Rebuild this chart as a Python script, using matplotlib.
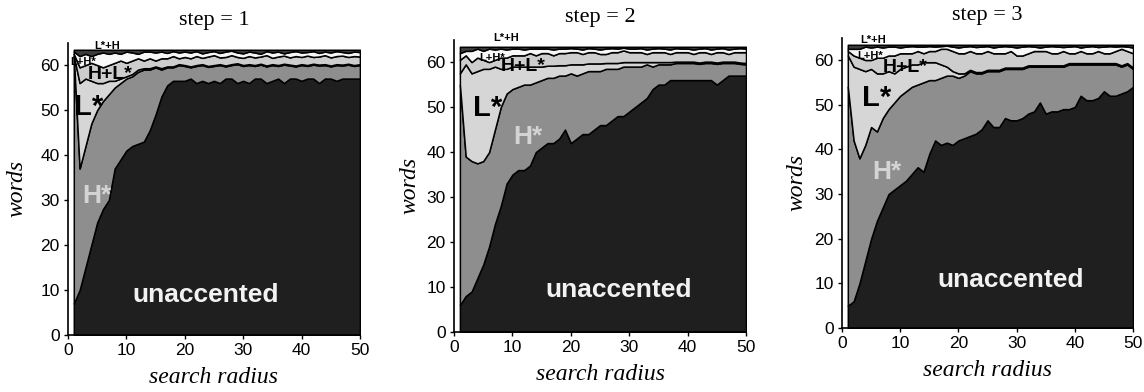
import matplotlib.pyplot as plt

# search radius 1..50
radius = list(range(1, 51))
total_words = 63.4

# cumulative layer tops (words)
# step = 1
s1_unacc = [7, 10, 15, 20, 25, 28, 30, 37, 39, 41,
            42, 42.5, 43, 45.5, 49, 53, 55.5, 56.5, 56.5, 56.5,
            57, 56, 56.5, 56, 56.5, 56, 57, 57, 56, 56.5,
            56, 57, 57, 56, 56.5, 57, 56, 57, 57, 56.5,
            57, 57, 56, 57, 57, 56.5, 57, 57, 57, 57]
s1_hstar = [62, 37, 42, 47, 50, 52, 53.5, 55, 56, 57,
            57.5, 58.5, 59, 59, 59.5, 59, 59.5, 59.5, 60, 59.8,
            59.5, 59.8, 60, 59.6, 59.8, 60, 59.7, 60, 60.2, 59.8,
            60, 59.8, 60.1, 59.7, 60, 59.8, 60.1, 59.9, 59.7, 60,
            59.8, 60.1, 59.9, 60, 59.7, 60, 59.9, 60.1, 59.8, 60]
s1_lstar = [62, 56, 57, 56.5, 56, 56, 56.5, 56.5, 57, 57.5,
            58, 59, 59.3, 59.3, 59.7, 59.3, 59.7, 59.7, 60.2, 60,
            59.7, 60, 60.2, 59.8, 60, 60.2, 59.9, 60.2, 60.4, 60,
            60.2, 60, 60.3, 59.9, 60.2, 60, 60.3, 60.1, 59.9, 60.2,
            60, 60.3, 60.1, 60.2, 59.9, 60.2, 60.1, 60.3, 60, 60.2]
s1_hl = [62.5, 59.5, 60, 60.5, 60, 59.5, 60, 60.5, 61, 60.5,
         61, 61.5, 61, 61.5, 61, 61.5, 61.5, 62, 61.5, 61.8,
         61.5, 62, 61.6, 61.9, 62.2, 61.7, 61.8, 62.2, 61.8, 61.6,
         62, 61.7, 61.9, 62.2, 61.6, 61.9, 62.1, 61.7, 62, 61.8,
         62.1, 61.8, 61.9, 62.2, 61.7, 62, 62.1, 61.8, 62, 61.9]
s1_lh = [63, 62, 62.5, 62, 62.5, 62.8, 62.5, 62.8, 62.5, 63,
         62.8, 62.5, 63, 63, 62.8, 63, 62.7, 63.1, 62.8, 63,
         62.8, 63.1, 62.6, 62.9, 63.1, 62.7, 63, 63.2, 62.8, 62.6,
         63, 62.8, 62.5, 63.1, 62.8, 63, 62.6, 62.9, 63.1, 62.8,
         62.9, 63.1, 62.7, 63, 62.8, 63.1, 62.9, 62.7, 63, 62.9]

# step = 2
s2_unacc = [6, 8, 9, 12, 15, 19, 24, 28, 33, 35,
            36, 36, 37, 40, 41, 42, 42, 43, 45, 42,
            43, 44, 44, 45, 46, 46, 47, 48, 48, 49,
            50, 51, 52, 54, 55, 55, 56, 56, 56, 56,
            56, 56, 56, 56, 55, 56, 57, 57, 57, 57]
s2_hstar = [55, 39, 38, 37.5, 38, 40, 45, 50, 53, 54,
            54.5, 55, 55, 55.5, 56, 56.5, 56.5, 57, 57, 57.5,
            57, 57.5, 58, 58, 58, 58.5, 58.5, 58.5, 59, 59,
            59, 59, 59.5, 59, 59.5, 59.5, 59.5, 59.8, 59.8, 59.8,
            59.8, 59.6, 59.8, 59.8, 59.6, 59.8, 59.8, 59.8, 59.6, 59.5]
s2_lstar = [57.5, 59.5, 57.5, 58, 58.5, 58.5, 59, 58.5, 58.5, 59,
            59, 59, 59, 59, 59, 59.2, 59.2, 59.3, 59.3, 59.5,
            59.5, 59.5, 59.7, 59.7, 59.7, 59.8, 59.8, 59.8, 60, 60,
            60, 60, 60, 60, 60, 60, 60, 60.1, 60.1, 60.1,
            60.1, 59.9, 60.1, 60.1, 59.9, 60.1, 60.1, 60.1, 59.9, 59.8]
s2_hl = [60.5, 61.5, 60, 61, 60.5, 60, 60.5, 61, 61, 61.5,
         61.5, 61.5, 62, 61.5, 62, 62, 61.5, 62, 62, 62.2,
         62.2, 61.8, 62.2, 62.2, 61.8, 61.8, 62.2, 62.2, 62.6, 62.2,
         62.2, 62.2, 61.8, 62.2, 62.2, 62.2, 61.8, 62.2, 62.2, 62.2,
         61.8, 62.2, 62.2, 61.8, 62.2, 62.2, 61.8, 62.2, 62.2, 62.2]
s2_lh = [62, 62.5, 62.5, 63, 62.5, 63, 62.8, 63, 62.8, 63,
         63, 62.8, 63, 63, 63, 63, 62.8, 63, 63, 63.1,
         63, 62.8, 63.1, 63, 62.8, 63, 63.1, 63, 63.2, 63,
         63, 63.1, 62.8, 63, 63.1, 63, 62.8, 63.1, 63, 63,
         62.8, 63, 63.1, 62.8, 63, 63.1, 62.8, 63, 63.1, 63]

# step = 3
s3_unacc = [5, 6, 10, 15, 20, 24, 27, 30, 31, 32,
            33, 34.5, 36, 35, 39, 42, 41, 41.5, 41, 42,
            42.5, 43, 43.5, 44.5, 46.5, 45, 45, 47, 46.5, 46.5,
            47, 48, 48.5, 50.5, 48, 48.5, 48.5, 49, 49, 49.5,
            52, 51, 51, 51.5, 53, 52, 52, 52.5, 53, 54]
s3_hstar = [54, 42, 38, 41, 45, 44, 47, 49, 50.5, 52,
            53, 54, 54.5, 55, 55.5, 55.5, 56, 56.5, 56.5, 56,
            56.5, 57.5, 57, 57, 57.5, 57.5, 57.5, 58, 58, 58,
            58, 58.5, 58.5, 58.5, 58.5, 58.5, 58.5, 58.5, 59, 59,
            59, 59, 59, 59, 59, 59, 59, 58.5, 59, 58]
s3_lstar = [61, 58.5, 58, 57.5, 58, 57, 57, 57.5, 57, 58,
            58.5, 59, 59, 59.5, 59.5, 59.5, 59, 58.5, 57.5, 57,
            57, 57.8, 57.3, 57.3, 57.8, 57.8, 57.8, 58.3, 58.3, 58.3,
            58.3, 58.8, 58.8, 58.8, 58.8, 58.8, 58.8, 58.8, 59.3, 59.3,
            59.3, 59.3, 59.3, 59.3, 59.3, 59.3, 59.3, 58.8, 59.3, 58.3]
s3_hl = [62, 61, 60.5, 60, 60, 60.5, 60.5, 61, 61, 61.5,
         61.5, 61.5, 62, 61.5, 62, 62, 62.5, 62.5, 62, 61.5,
         61.5, 62, 61.5, 61.5, 62, 61.5, 61.5, 61.5, 62, 61,
         61, 61.5, 62, 62, 62, 61.5, 61.5, 62, 61.5, 61.5,
         62, 61.5, 61.5, 62, 61.5, 61.5, 62, 62.5, 62, 61.5]
s3_lh = [62.5, 62.5, 62.5, 63, 62.8, 63, 62.8, 63, 63, 62.8,
         63, 63.1, 63, 63, 63.1, 63, 63.1, 63.2, 63, 62.8,
         63, 63.1, 62.9, 63, 63.1, 62.8, 63, 63.1, 63, 62.8,
         63, 63.1, 63, 62.8, 63, 63.1, 63, 62.9, 63, 63.1,
         62.8, 63, 63.1, 62.9, 63, 63.1, 63, 63.1, 63, 62.8]

steps = [1, 2, 3]
panels = [
    [s1_unacc, s1_hstar, s1_lstar, s1_hl, s1_lh],
    [s2_unacc, s2_hstar, s2_lstar, s2_hl, s2_lh],
    [s3_unacc, s3_hstar, s3_lstar, s3_hl, s3_lh],
]
# unaccented, H*, L*, H+L*, L+H*, L*+H
colors = ['#1f1f1f', '#8e8e8e', '#d6d6d6', '#cdcdcd', '#f7f7f7', '#3c3c3c']

# label positions per panel: (radius, words)
pos_unacc = [(23.6, 8.9), (28.2, 9.3), (29, 10.7)]
pos_hstar = [(5, 31), (12.7, 43.3), (7.7, 34.9)]
pos_lstar = [(3.6, 50.7), (5.7, 49.8), (6, 51.4)]
pos_hl = [(7.2, 57.8), (11.8, 59.1), (10.8, 58.4)]
pos_lh = [(2.6, 60.7), (6.5, 60.9), (4.8, 60.8)]
pos_lsh = [(6.7, 64.2), (8.9, 65.3), (5.3, 64.4)]

axes_rects = [
    [0.0594, 0.1454, 0.2552, 0.746],
    [0.3969, 0.1530, 0.2552, 0.746],
    [0.7360, 0.1630, 0.2544, 0.741],
]
ylab_x = [-0.14, -0.115, -0.12]

serif = ['Liberation Serif', 'DejaVu Serif']
sans = ['Liberation Sans', 'DejaVu Sans']

fig = plt.figure(figsize=(11.44, 3.92), dpi=100)

for i in range(3):
    ax = fig.add_axes(axes_rects[i])
    tops = panels[i] + [[total_words] * len(radius)]
    lower = [0] * len(radius)
    for k, upper in enumerate(tops):
        ax.fill_between(radius, lower, upper, facecolor=colors[k],
                        edgecolor='black', linewidth=1.1)
        lower = upper

    ax.set_xlim(0, 50)
    ax.set_ylim(0, 65)
    ax.set_xticks([0, 10, 20, 30, 40, 50])
    ax.set_yticks([0, 10, 20, 30, 40, 50, 60])
    for s in ['top', 'right']:
        ax.spines[s].set_visible(False)
    ax.spines['left'].set_linewidth(1.2)
    ax.spines['bottom'].set_linewidth(1.2)
    ax.tick_params(direction='out', length=3, width=1, labelsize=12.5, pad=3)
    for t in ax.get_xticklabels() + ax.get_yticklabels():
        t.set_family(sans)

    ax.set_title('step = %d' % steps[i], fontsize=16, family=serif, pad=13)
    ax.set_xlabel('search radius', fontsize=17, family=serif, style='italic',
                  labelpad=6)
    ax.set_ylabel('words', fontsize=17, family=serif, style='italic')
    ax.yaxis.set_label_coords(ylab_x[i], 0.5)

    ax.text(*pos_unacc[i], 'unaccented', color='#f2f2f2', fontsize=19,
            fontweight='bold', family=sans, ha='center', va='center')
    ax.text(*pos_hstar[i], 'H*', color='#d4d4d4', fontsize=19,
            fontweight='bold', family=sans, ha='center', va='center')
    ax.text(*pos_lstar[i], 'L*', color='black', fontsize=21,
            fontweight='bold', family=sans, ha='center', va='center')
    ax.text(*pos_hl[i], 'H+L*', color='black', fontsize=14,
            fontweight='bold', family=sans, ha='center', va='center')
    ax.text(*pos_lh[i], 'L+H*', color='black', fontsize=8,
            fontweight='bold', family=sans, ha='center', va='center')
    ax.text(*pos_lsh[i], 'L*+H', color='black', fontsize=8,
            fontweight='bold', family=sans, ha='center', va='center',
            clip_on=False)

fig.savefig('out.png', dpi=100)
